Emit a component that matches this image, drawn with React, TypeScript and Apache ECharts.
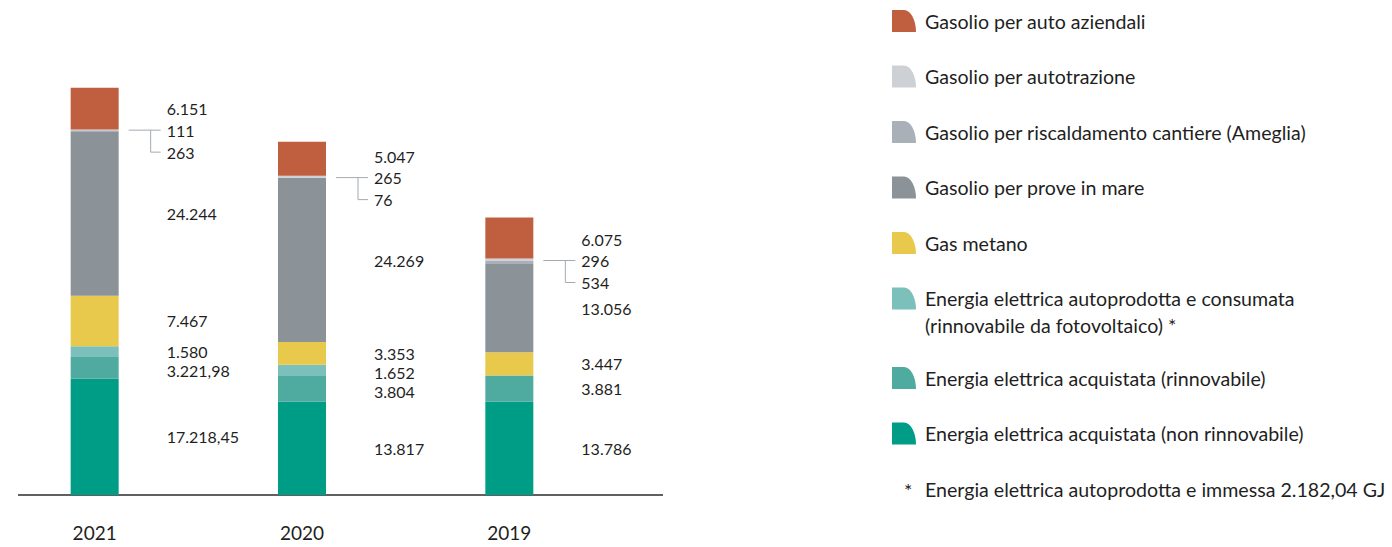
import React, { useEffect, useRef } from 'react';
import * as echarts from 'echarts';

// ---- data ----
const years = ['2021', '2020', '2019'];
const gasolioAutoAziendali = [6151, 5047, 6075];
const gasolioAutotrazione = [111, 265, 296];
const gasolioRiscaldamento = [263, 76, 534];
const gasolioProveMare = [24244, 24269, 13056];
const gasMetano = [7467, 3353, 3447];
const eeAutoprodotta: (number | null)[] = [1580, 1652, null];
const eeRinnovabile = [3221.98, 3804, 3881];
const eeNonRinnovabile = [17218.45, 13817, 13786];
const eeImmessa = 2182.04;

const NAME_AUTOPRODOTTA = 'Energia elettrica autoprodotta e consumata (rinnovabile da fotovoltaico) *';
const AUTOPRODOTTA_LINE1 = 'Energia elettrica autoprodotta e consumata';
const AUTOPRODOTTA_LINE2 = '(rinnovabile da fotovoltaico) *';

// bottom-up stacking order
const layers = [
  { name: 'Energia elettrica acquistata (non rinnovabile)', data: eeNonRinnovabile, color: '#009D86' },
  { name: 'Energia elettrica acquistata (rinnovabile)', data: eeRinnovabile, color: '#4FAAA0' },
  { name: NAME_AUTOPRODOTTA, data: eeAutoprodotta, color: '#7BC0BA' },
  { name: 'Gas metano', data: gasMetano, color: '#E8C94C' },
  { name: 'Gasolio per prove in mare', data: gasolioProveMare, color: '#8B9298' },
  { name: 'Gasolio per riscaldamento cantiere (Ameglia)', data: gasolioRiscaldamento, color: '#A9B0B7' },
  { name: 'Gasolio per autotrazione', data: gasolioAutotrazione, color: '#CDD1D6' },
  { name: 'Gasolio per auto aziendali', data: gasolioAutoAziendali, color: '#BF5F40' },
];

const FONT = 'Lato, "Noto Sans", sans-serif';
const TEXT = '#1f1f1f';
const LEGEND_FS = 19.6;
const ICON = 'path://M0,0 L12,0 C18.6,0 24,9.9 24,22 L0,22 Z';

function fmt(v: number): string {
  const s = Number.isInteger(v) ? String(v) : v.toFixed(2);
  const [int, dec] = s.split('.');
  const intF = int.replace(/\B(?=(\d{3})+(?!\d))/g, '.');
  return dec ? intF + ',' + dec : intF;
}

export default function App() {
  const ref = useRef<HTMLDivElement>(null);

  useEffect(() => {
    const chart = echarts.init(ref.current!, null, { renderer: 'svg' });

    const legendCommon = {
      orient: 'vertical',
      left: 892,
      padding: 0,
      itemWidth: 24,
      itemHeight: 22,
      itemGap: 33.5,
      icon: ICON,
      selectedMode: false,
      textStyle: { fontSize: LEGEND_FS, color: TEXT, fontFamily: FONT, padding: [0, 0, 0, 4] },
    };

    const build = (offsets: number[][] | null, graphics: any[]) => ({
      animation: false,
      grid: { left: -9, right: 779, top: 22, bottom: 52, outerBoundsMode: 'none' },
      xAxis: {
        type: 'category',
        data: years,
        axisLine: { show: false },
        axisTick: { show: false },
        axisLabel: { margin: 28, fontSize: 19, color: TEXT, fontFamily: FONT },
      },
      yAxis: { type: 'value', min: 0, max: 70000, show: false },
      legend: [
        {
          ...legendCommon,
          top: 10,
          data: layers.slice(2).map((l) => l.name).reverse(),
          formatter: (n: string) => (n === NAME_AUTOPRODOTTA ? AUTOPRODOTTA_LINE1 : n),
        },
        {
          ...legendCommon,
          top: 367,
          data: layers.slice(0, 2).map((l) => l.name).reverse(),
        },
      ],
      series: layers.map((l, k) => ({
        name: l.name,
        type: 'bar',
        stack: 'tot',
        barWidth: 48,
        itemStyle: { color: l.color },
        emphasis: { disabled: true },
        label: {
          show: true,
          position: 'right',
          distance: 48,
          fontSize: 16,
          color: TEXT,
          fontFamily: FONT,
          formatter: (p: any) => fmt(p.value),
        },
        data: l.data.map((v, i) =>
          v == null ? '-' : { value: v, label: { offset: [0, offsets ? offsets[k][i] : 0] } }
        ),
      })),
      graphic: graphics,
    });

    chart.setOption(build(null, []));

    const px = (i: number, v: number) => chart.convertToPixel({ gridIndex: 0 } as any, [i, v]) as number[];
    const offsets: number[][] = layers.map(() => years.map(() => 0));
    const graphics: any[] = [];

    years.forEach((_, i) => {
      let cum = 0;
      const segs = layers.map((l) => {
        const v = l.data[i] ?? 0;
        const b = cum;
        cum += v;
        return { bottom: px(i, b)[1], top: px(i, cum)[1], v: l.data[i] };
      });
      const centers = segs.map((s) => (s.bottom + s.top) / 2);
      const yh = segs[5].top;
      const targets: number[] = centers.slice();
      targets[7] = yh - 21.5;
      targets[6] = yh;
      targets[5] = yh + 22;
      let prev = targets[5];
      for (let k = 4; k >= 0; k--) {
        if (segs[k].v == null) continue;
        const t = Math.max(centers[k], prev + 19);
        targets[k] = t;
        prev = t;
      }
      layers.forEach((_, k) => (offsets[k][i] = targets[k] - centers[k]));

      const xr = px(i, 0)[0] + 24;
      const lineStyle = { stroke: '#A3AAB0', lineWidth: 1, fill: null };
      graphics.push({
        type: 'polyline',
        silent: true,
        shape: { points: [[xr + 10, yh], [xr + 42, yh]] },
        style: lineStyle,
      });
      graphics.push({
        type: 'polyline',
        silent: true,
        shape: { points: [[xr + 32, yh], [xr + 32, yh + 22], [xr + 42, yh + 22]] },
        style: lineStyle,
      });
    });

    const y0 = px(0, 0)[1];
    graphics.push({
      type: 'line',
      silent: true,
      shape: { x1: 18, y1: y0, x2: 663, y2: y0 },
      style: { stroke: '#2b2b2b', lineWidth: 1.3 },
    });
    graphics.push({
      type: 'text',
      silent: true,
      x: 925,
      y: 325,
      style: { text: AUTOPRODOTTA_LINE2, fontSize: LEGEND_FS, fontFamily: FONT, fill: TEXT, verticalAlign: 'middle' },
    });
    graphics.push({
      type: 'text',
      silent: true,
      x: 904,
      y: 490,
      style: { text: '*', fontSize: LEGEND_FS, fontFamily: FONT, fill: TEXT, verticalAlign: 'middle' },
    });
    graphics.push({
      type: 'text',
      silent: true,
      x: 925,
      y: 489,
      style: {
        text: 'Energia elettrica autoprodotta e immessa ' + fmt(eeImmessa) + ' GJ',
        fontSize: LEGEND_FS,
        fontFamily: FONT,
        fill: TEXT,
        verticalAlign: 'middle',
      },
    });

    chart.setOption(build(offsets, graphics));

    return () => chart.dispose();
  }, []);

  return <div ref={ref} style={{ width: 1392, height: 547, position: 'absolute', left: 0, top: 0 }} />;
}
